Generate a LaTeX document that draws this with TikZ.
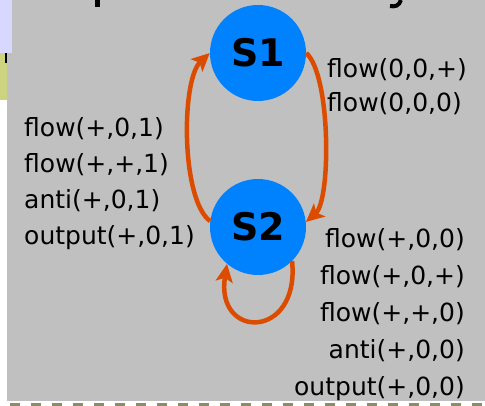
\documentclass[tikz,border=0pt]{standalone}
\usepackage{fontspec}
\setmainfont{DejaVu Sans}
\usetikzlibrary{arrows.meta}

\definecolor{bggray}{RGB}{192,192,192}
\definecolor{stateblue}{RGB}{0,130,255}
\definecolor{transorange}{RGB}{220,76,0}
\definecolor{barlav}{RGB}{216,216,255}
\definecolor{barolive}{RGB}{204,212,128}
\definecolor{dashgray}{RGB}{140,140,104}

\tikzset{
	state/.style={circle, fill=stateblue, minimum size=96pt, inner sep=0pt,
		font=\fontsize{38}{38}\selectfont\bfseries},
	trans/.style={draw=transorange, line width=4.5pt,
		-{Stealth[length=18pt,width=17pt,inset=4pt]}},
	lbl/.style={inner sep=0pt, font=\fontsize{25}{36}\selectfont},
}

\begin{document}
\begin{tikzpicture}[x=1pt,y=-1pt]
	\useasboundingbox (0,0) rectangle (485,406);
	% backdrop and side strips
	\fill[bggray] (7,0) rectangle (485,401);
	\fill[barlav] (0,0) rectangle (12,53);
	\fill[barolive] (0,53) rectangle (7,100);
	\fill[black] (4.5,53) rectangle (6.5,63);
	\draw[dashgray, line width=3pt, dash pattern=on 10pt off 11pt] (10,404) -- (485,404);
	% bits of the heading above
	\fill[black] (95,0) rectangle (100,7);
	\draw[black, line width=4pt] (401,0) .. controls (399,6) and (395,7) .. (390,6);

	% states
	\node[state] (s1) at (258,53) {S1};
	\node[state] (s2) at (258,227) {S2};

	% transitions
	\draw[trans] (s2.173) .. controls (181,200) and (181,80) .. (s1.west);
	\draw[trans] (s1.east) .. controls (331,75) and (331,200) .. (s2.6);
	\draw[trans] (s2.-45) .. controls (300,340) and (215,340) .. (s2.-130);

	% labels
	\node[lbl, anchor=west, align=left] (l21) at (24,184)
		{flow(+,0,1)\\flow(+,+,1)\\anti(+,0,1)\\output(+,0,1)};
	\node[lbl, anchor=west, align=left, font=\fontsize{25}{34}\selectfont] (l12) at (327,87)
		{flow(0,0,+)\\flow(0,0,0)};
	\node[lbl, anchor=east, align=right, font=\fontsize{25}{37}\selectfont] (l22) at (465,315)
		{flow(+,0,0)\\flow(+,0,+)\\flow(+,+,0)\\anti(+,0,0)\\output(+,0,0)};
\end{tikzpicture}
\end{document}
